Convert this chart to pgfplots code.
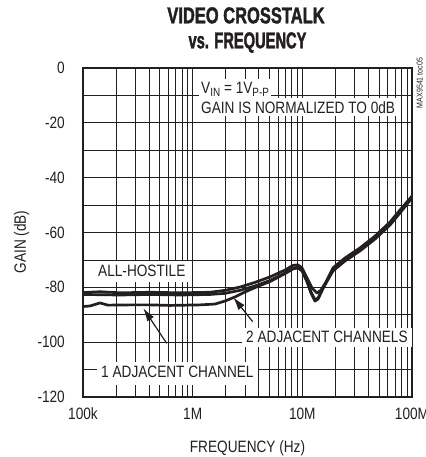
\documentclass[border=0pt]{standalone}
\usepackage{fontspec}
\setmainfont{Liberation Sans}[FakeStretch=0.83]
\newfontfamily\titleA{Liberation Sans}[FakeStretch=0.72, BoldFeatures={FakeBold=1.6}]
\newfontfamily\titleB{Liberation Sans}[FakeStretch=0.64, BoldFeatures={FakeBold=1.6}]
\usepackage{pgfplots}
\usepackage{pgfplotstable}
\pgfplotsset{compat=1.18}
\usetikzlibrary{arrows.meta}
\definecolor{ink}{HTML}{231F20}
\newcommand\fs{\fontsize{16.5}{19}\selectfont}
\newcommand\sub[1]{\raisebox{-3bp}{\fontsize{12}{12}\selectfont #1}}

% all-hostile crosstalk
\pgfplotstableread{
f        dB
1.000e5  -81.9
1.429e5  -81.6
2.170e5  -82.0
4.080e5  -81.8
7.660e5  -82.0
1.439e6  -81.8
1.971e6  -81.1
2.702e6  -79.9
3.700e6  -78.2
5.070e6  -76.2
6.950e6  -73.7
8.220e6  -72.0
9.120e6  -71.8
9.930e6  -72.9
1.103e7  -76.6
1.225e7  -80.2
1.361e7  -82.1
1.480e7  -81.0
1.643e7  -78.0
1.904e7  -72.9
2.449e7  -69.3
3.360e7  -65.6
4.600e7  -61.3
6.300e7  -56.2
7.770e7  -51.8
1.000e8  -46.7
}\allhostile

% 2 adjacent channels
\pgfplotstableread{
f        dB
1.000e5  -82.6
2.170e5  -82.8
4.080e5  -82.6
7.660e5  -82.8
1.439e6  -82.6
1.971e6  -82.2
2.702e6  -81.1
3.700e6  -79.5
5.070e6  -77.5
6.950e6  -74.8
8.220e6  -73.1
9.120e6  -72.6
9.930e6  -73.7
1.103e7  -77.7
1.199e7  -81.7
1.305e7  -84.6
1.390e7  -83.9
1.542e7  -80.2
1.904e7  -74.0
2.449e7  -70.4
3.360e7  -66.7
4.600e7  -62.4
6.300e7  -57.3
7.770e7  -52.9
1.000e8  -47.4
}\twoadj

% 1 adjacent channel
\pgfplotstableread{
f        dB
1.000e5  -87.0
1.158e5  -86.8
1.429e5  -85.7
1.690e5  -86.5
2.680e5  -86.4
4.080e5  -86.4
6.210e5  -86.6
1.167e6  -86.4
1.598e6  -86.1
1.971e6  -85.0
2.432e6  -83.5
3.000e6  -81.7
3.700e6  -80.1
5.070e6  -77.9
6.950e6  -75.0
8.220e6  -73.3
9.120e6  -72.9
9.930e6  -74.0
1.103e7  -78.0
1.199e7  -82.1
1.305e7  -85.0
1.390e7  -84.3
1.542e7  -80.5
1.904e7  -73.7
2.449e7  -70.0
3.360e7  -66.1
4.600e7  -61.8
6.300e7  -56.8
7.770e7  -52.2
1.000e8  -47.0
}\oneadj

\begin{document}
\begin{tikzpicture}
\path[use as bounding box] (0,0) rectangle (426bp,457bp);
\begin{axis}[
    at={(83bp,60bp)}, anchor=south west,
    width=329bp, height=329bp, scale only axis,
    xmode=log, xmin=1e5, xmax=1e8,
    ymin=-120, ymax=0,
    xtick={1e5,1e6,1e7,1e8},
    xticklabels={100k,1M,10M,100M},
    minor xtick={2e5,3e5,4e5,5e5,6e5,7e5,8e5,9e5,
                 2e6,3e6,4e6,5e6,6e6,7e6,8e6,9e6,
                 2e7,3e7,4e7,5e7,6e7,7e7,8e7,9e7},
    ytick={-120,-100,-80,-60,-40,-20,0},
    yticklabels={-120,-100,-80,-60,-40,-20,0},
    minor ytick={-110,-90,-70,-50,-30,-10},
    grid=both,
    major grid style={ink, line width=0.9bp},
    minor grid style={ink, line width=0.8bp},
    major tick length=0pt, minor tick length=0pt,
    axis line style={ink, line width=2.6bp},
    ticklabel style={font=\fs, text=ink},
    xticklabel style={anchor=north, inner sep=0pt, yshift=-10.5bp},
    yticklabel style={anchor=east, inner sep=0pt, xshift=-18bp},
]
  \addplot[ink, line width=2.7bp, line join=round] table[x=f, y=dB] {\oneadj};
  \addplot[ink, line width=2.7bp, line join=round] table[x=f, y=dB] {\twoadj};
  \addplot[ink, line width=2.7bp, line join=round] table[x=f, y=dB] {\allhostile};
\end{axis}

% titles and axis labels
\node[anchor=base, text=ink] at (246bp,433.7bp) {\titleA\bfseries\fontsize{23}{26}\selectfont VIDEO CROSSTALK};
\node[anchor=base, text=ink] at (247.5bp,408.7bp) {\titleB\bfseries\fontsize{23}{26}\selectfont vs. FREQUENCY};
\node[anchor=base, text=ink, inner sep=0pt] at (247.5bp,5bp) {\fs FREQUENCY (Hz)};
\node[rotate=90, text=ink, inner sep=0pt] at (21.5bp,215bp) {\fs GAIN (dB)};
\node[rotate=90, text=ink, inner sep=0pt] at (419.7bp,374bp) {\fontsize{8.5}{9}\selectfont MAX9541 toc05};

% annotations
\node[anchor=base west, fill=white, text=ink, inner xsep=2bp, inner ysep=3bp] at (199bp,363.7bp) {\fs V\sub{IN} = 1V\sub{P-P}};
\node[anchor=base west, fill=white, text=ink, inner xsep=2bp, inner ysep=3bp] at (199bp,343.7bp) {\fs GAIN IS NORMALIZED TO 0dB};
\node[anchor=base west, fill=white, text=ink, inner xsep=3bp, inner ysep=4.5bp] at (95bp,180bp) {\fs ALL-HOSTILE};
\node[anchor=base west, fill=white, text=ink, inner xsep=4bp, inner ysep=3.5bp] at (242bp,114bp) {\fs 2 ADJACENT CHANNELS};
\node[anchor=base west, fill=white, text=ink, inner xsep=4bp, inner ysep=5bp, text depth=2bp] at (97bp,79bp) {\fs 1 ADJACENT CHANNEL};
\draw[ink, line width=1.2bp, -{Latex[length=13bp, width=8bp]}] (166.7bp,113.7bp) -- (143.3bp,148.7bp);
\draw[ink, line width=1.2bp, -{Latex[length=13bp, width=8bp]}] (252.7bp,135.3bp) -- (233.3bp,159.7bp);
\end{tikzpicture}
\end{document}
